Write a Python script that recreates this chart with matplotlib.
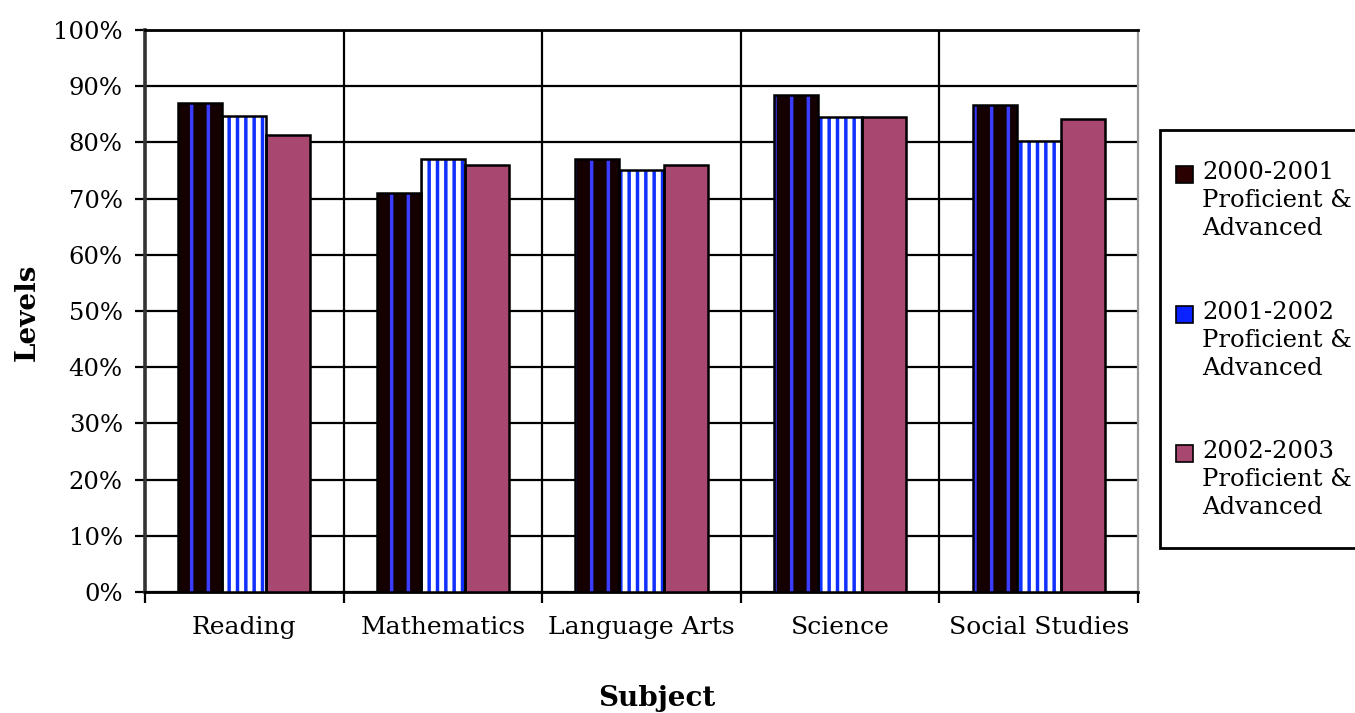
import matplotlib
matplotlib.use("Agg")
import matplotlib.pyplot as plt
from matplotlib.patches import Rectangle
import numpy as np

subjects = ["Reading", "Mathematics", "Language Arts", "Science", "Social Studies"]
series_labels = [
    "2000-2001\nProficient &\nAdvanced",
    "2001-2002\nProficient &\nAdvanced",
    "2002-2003\nProficient &\nAdvanced",
]
pct_2000_2001 = [87.0, 71.0, 77.0, 88.4, 86.7]
pct_2001_2002 = [84.7, 77.0, 75.1, 84.5, 80.2]
pct_2002_2003 = [81.3, 76.0, 76.0, 84.5, 84.2]
y_ticks = [0, 10, 20, 30, 40, 50, 60, 70, 80, 90, 100]

series_values = [pct_2000_2001, pct_2001_2002, pct_2002_2003]
legend_colors = ["#2a0000", "#0a22ff", "#a8476f"]
bar_faces = ["#150000", "#ffffff", "#a8476f"]
bar_hatch = ["|", "||", None]
hatch_colors = ["#3a3cff", "#1030ff", "#a8476f"]

FONT = "DejaVu Serif"
plt.rcParams["hatch.linewidth"] = 2.5

fig = plt.figure(figsize=(13.55, 7.13), dpi=100)
W, H = 1355, 713
left, right, top, bottom = 145, 1138, 30, 592
ax = fig.add_axes([left / W, 1 - bottom / H, (right - left) / W, (bottom - top) / H])

x = np.arange(len(subjects))
width = 0.222
offsets = [-width, 0, width]

for vals, off, face, hat, hc in zip(series_values, offsets, bar_faces, bar_hatch, hatch_colors):
    ax.bar(x + off, vals, width, color=face, edgecolor=hc, linewidth=0, hatch=hat, zorder=3)
    ax.bar(x + off, vals, width, fill=False, edgecolor="black", linewidth=1.8, zorder=4)

ax.set_xlim(-0.5, len(subjects) - 0.5)
ax.set_ylim(0, 100)

# horizontal gridlines and category dividers
ax.set_yticks(y_ticks)
ax.set_yticklabels([f"{v}%" for v in y_ticks], fontsize=17.5, family=FONT)
ax.yaxis.grid(True, color="black", linewidth=1.6, zorder=1)
boundaries = np.arange(len(subjects) + 1) - 0.5
ax.set_xticks(boundaries)
ax.set_xticklabels([])
ax.set_xticks(x, minor=True)
ax.set_xticklabels(subjects, minor=True, fontsize=18, family=FONT)
ax.tick_params(axis="x", which="minor", length=0, pad=17)
ax.tick_params(axis="x", which="major", length=8, width=1.6, color="black")
ax.tick_params(axis="y", length=7, width=1.6, color="black", pad=9)
for b in boundaries[1:-1]:
    ax.axvline(b, color="black", linewidth=1.6, zorder=1)
ax.set_axisbelow(True)

for side in ["left", "bottom", "top"]:
    ax.spines[side].set_color("black")
    ax.spines[side].set_linewidth(2.0)
ax.spines["left"].set_color("#333333")
ax.spines["left"].set_linewidth(2.6)
ax.spines["right"].set_color("#9a9a9a")
ax.spines["right"].set_linewidth(1.6)

# axis titles
fig.text(27 / W, 1 - 312 / H, "Levels", rotation=90, ha="center", va="center",
         fontsize=20, family=FONT, fontweight="bold")
fig.text(657 / W, 1 - 699 / H, "Subject", ha="center", va="center",
         fontsize=20, family=FONT, fontweight="bold")

# legend box
def fx(px):
    return px / W

def fy(py):
    return 1 - py / H

fig.patches.append(Rectangle((fx(1160), fy(548)), fx(1362) - fx(1160), fy(130) - fy(548),
                             transform=fig.transFigure, facecolor="white",
                             edgecolor="black", linewidth=2.0, zorder=5))
entry_tops = [163, 303, 442]
for label, color, ytop in zip(series_labels, legend_colors, entry_tops):
    fig.patches.append(Rectangle((fx(1176), fy(ytop + 20)), fx(1193) - fx(1176), fy(ytop + 3) - fy(ytop + 20),
                                 transform=fig.transFigure, facecolor=color,
                                 edgecolor="black", linewidth=1.2, zorder=6))
    fig.text(fx(1202), fy(ytop - 2), label, ha="left", va="top", fontsize=17.5,
             family=FONT, linespacing=1.28, zorder=7)

fig.savefig("out.png", dpi=100, facecolor="white")
